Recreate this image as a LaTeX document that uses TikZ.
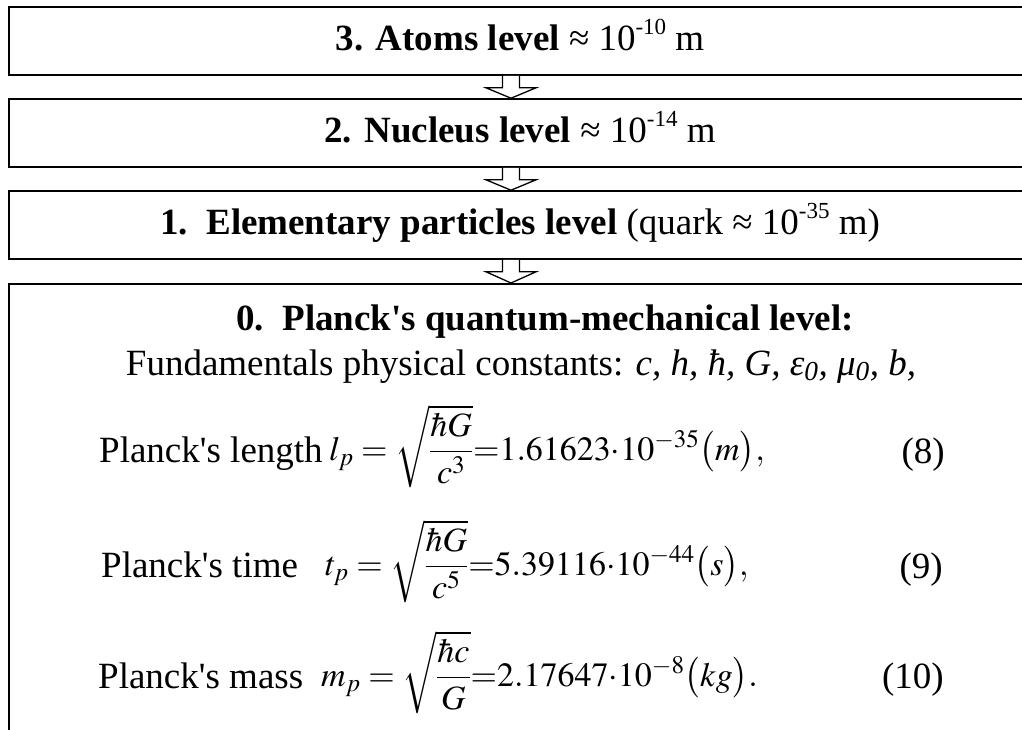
\documentclass[tikz,border=0pt]{standalone}
\usepackage{amsmath}
\usepackage{mathptmx}
\usepackage[no-math]{fontspec}
\setmainfont{Liberation Serif}
\usetikzlibrary{calc}
\newcommand\aps{\textquotesingle}
\newcommand\sups[1]{\raisebox{0.42em}{\fontsize{23}{23}\selectfont #1}}
\newcommand\blockarrow[2]{%
  \draw[blk] ($(#1.south)+(-17.5,0)$) -- ($(#1.south)+(-17.5,12)$) -- ($(#1.south)+(-34,12)$)
    -- ($(#2.north)+(-9,0)$) -- ($(#1.south)+(16,12)$) -- ($(#1.south)+(-0.5,12)$) -- ($(#1.south)+(-0.5,0)$);}
\begin{document}
\begin{tikzpicture}[x=1pt,y=-1pt,
  lvl/.style={draw, line width=1.6pt, minimum height=68pt, minimum width=1022pt, inner sep=0pt,
    text height=25pt, text depth=7pt, font=\fontsize{37}{44}\selectfont},
  blk/.style={draw, line width=1.3pt, fill=white, line join=miter},
  txt/.style={inner sep=0pt, font=\fontsize{37}{44}\selectfont},
  eq/.style={inner sep=0pt, anchor=base west, font=\fontsize{34}{40}\selectfont}]
\clip (0,0) rectangle (1022,729);
\node[lvl] (b3) at (520,41) {\textbf{3. Atoms level} ≈ 10\sups{-10} m};
\node[lvl] (b2) at (520,133) {\textbf{2. Nucleus level} ≈ 10\sups{-14} m};
\node[lvl] (b1) at (520,225) {\textbf{1.\ \ Elementary particles level} (quark ≈ 10\sups{-35} m)};
\node[draw, line width=1.6pt, minimum width=1022pt, minimum height=517pt, inner sep=0pt, anchor=north] (b0) at (520,283) {};
\blockarrow{b3}{b2}
\blockarrow{b2}{b1}
\blockarrow{b1}{b0}
\node[txt, anchor=base] (t0) at (545,330) {\textbf{0.\ \ Planck\aps s quantum-mechanical level:}};
\node[txt, anchor=base] (fc) at (521,375) {Fundamentals physical constants: \textit{c, h, ħ, G, ε\textsubscript{0}, μ\textsubscript{0}, b,}};
\node[txt, anchor=base west] (pl) at (99,462) {Planck\aps s length};
\node[eq] (el) at (329,460) {$l_p=\sqrt{\dfrac{\hbar G}{c^3}}{=}1.61623{\cdot}10^{-35}\bigl(m\bigr),$};
\node[txt, anchor=base east] (n8) at (945,463) {(8)};
\node[txt, anchor=base west] (pt) at (101,577) {Planck\aps s time};
\node[eq] (et) at (325,575) {$t_p=\sqrt{\dfrac{\hbar G}{c^5}}{=}5.39116{\cdot}10^{-44}\bigl(s\bigr),$};
\node[txt, anchor=base east] (n9) at (943,578) {(9)};
\node[txt, anchor=base west] (pm) at (98,688) {Planck\aps s mass};
\node[eq] (em) at (321,686) {$m_p=\sqrt{\dfrac{\hbar c}{G}}{=}2.17647{\cdot}10^{-8}\bigl(kg\bigr).$};
\node[txt, anchor=base east] (n10) at (944,688) {(10)};
\end{tikzpicture}
\end{document}
